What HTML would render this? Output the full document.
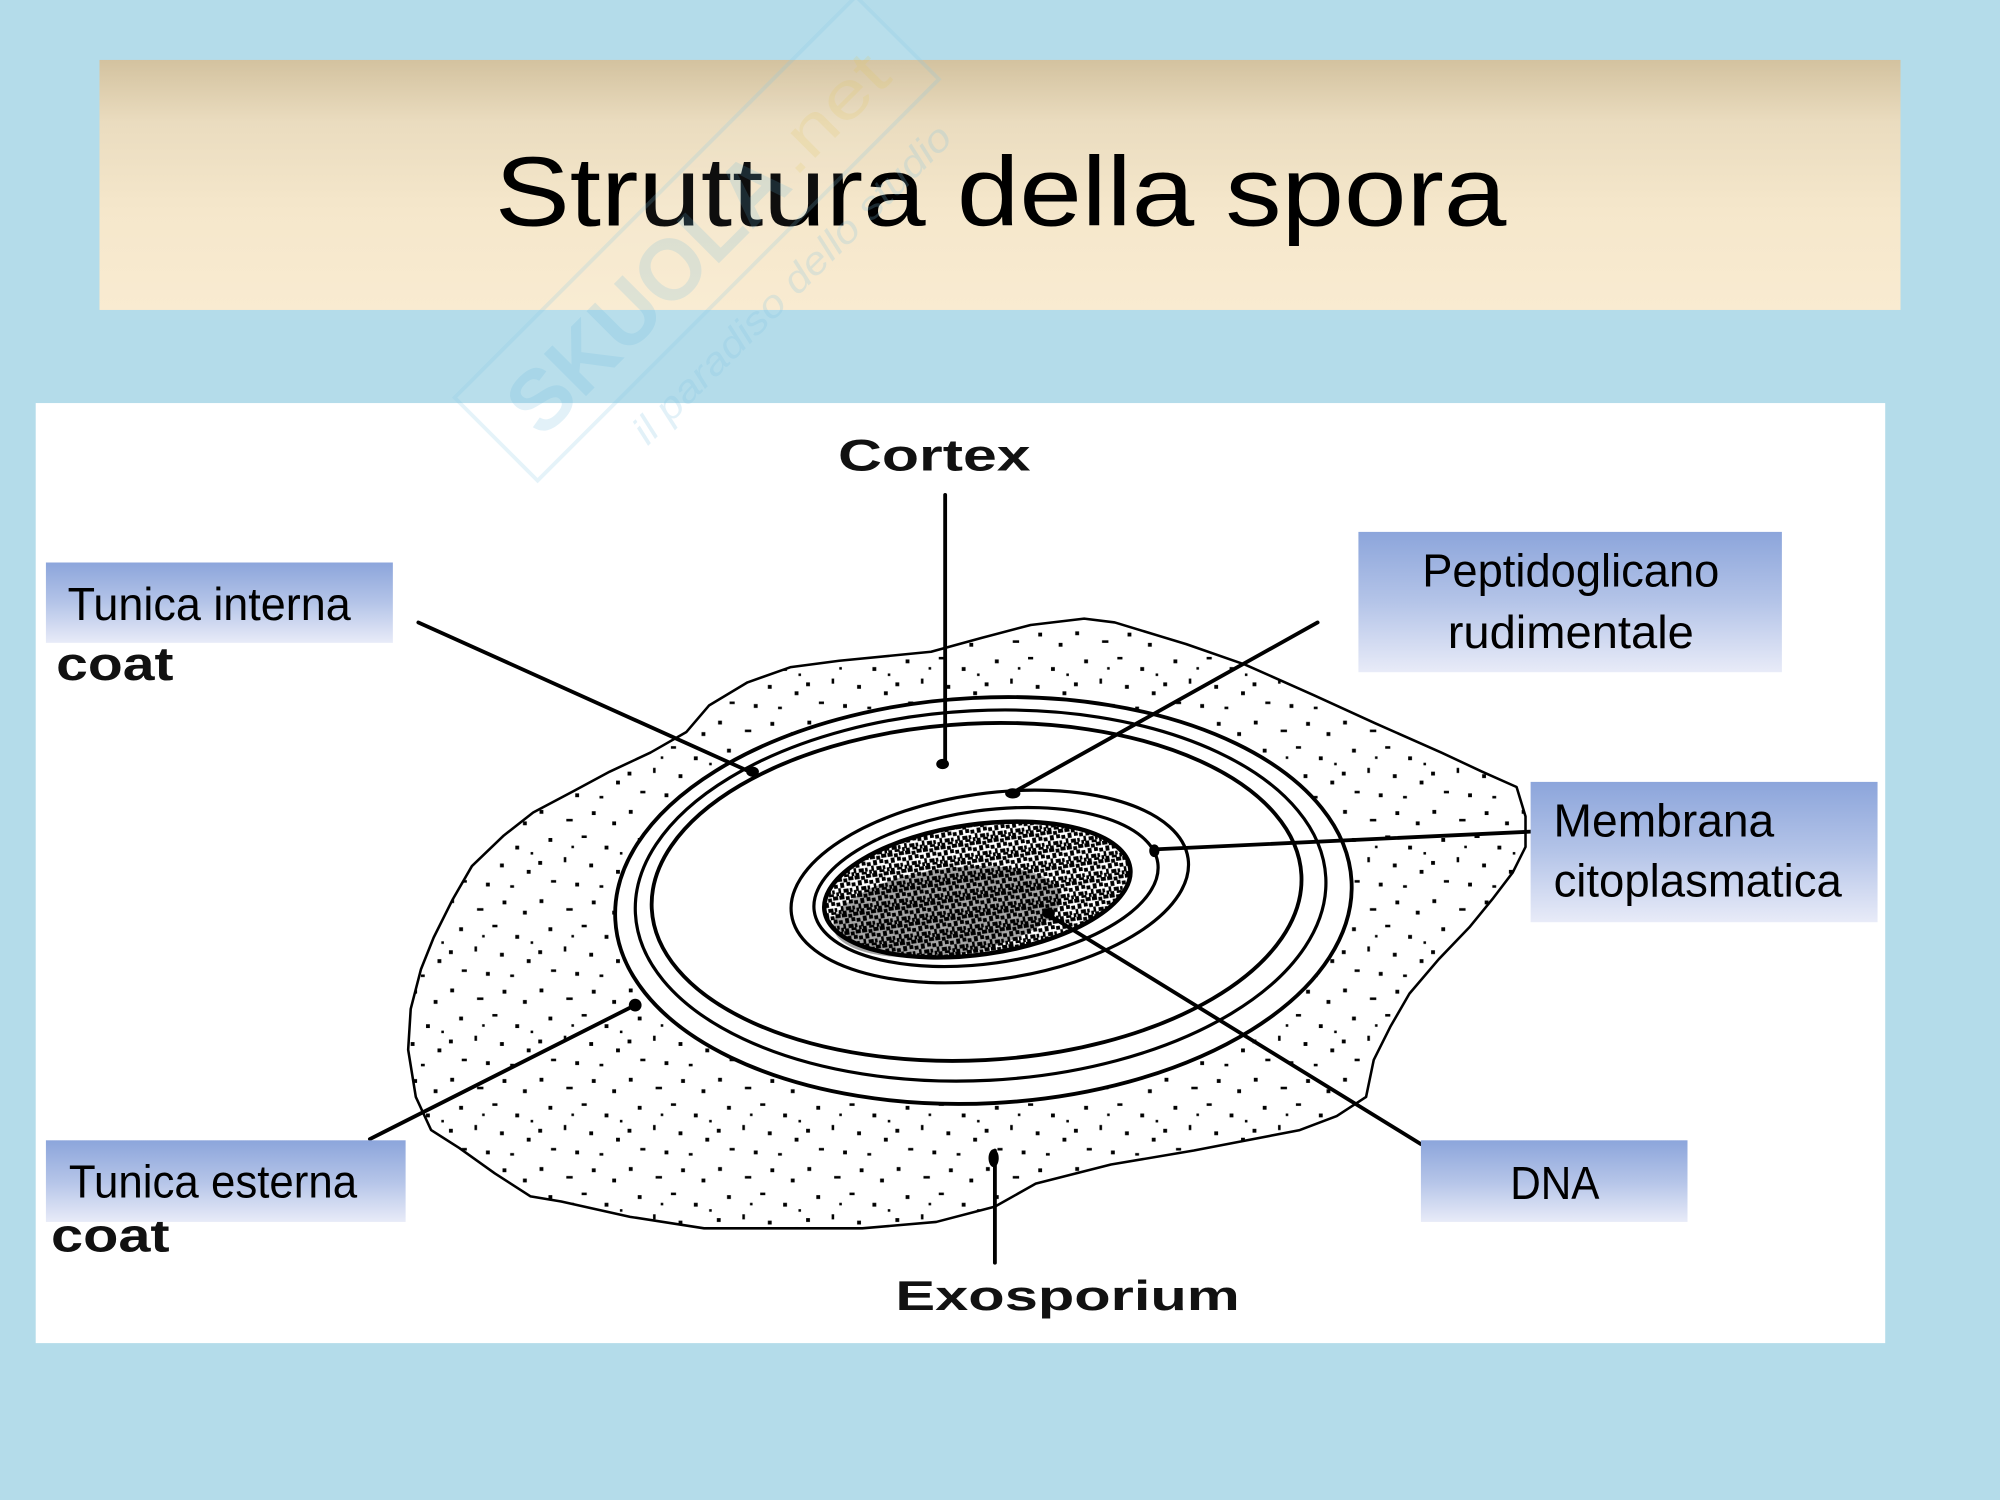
<!DOCTYPE html>
<html>
<head>
<meta charset="utf-8">
<style>
html,body{margin:0;padding:0;background:#b4dcea;}
svg{display:block;}
</style>
</head>
<body>
<svg width="2000" height="1500" viewBox="0 0 1568 1176" xmlns="http://www.w3.org/2000/svg">
<defs>
  <linearGradient id="tg" x1="0" y1="0" x2="0" y2="1">
    <stop offset="0" stop-color="#d3c29f"/>
    <stop offset="0.25" stop-color="#eadcbf"/>
    <stop offset="0.6" stop-color="#f5e7cb"/>
    <stop offset="1" stop-color="#f9ebd1"/>
  </linearGradient>
  <linearGradient id="bg" x1="0" y1="0" x2="0" y2="1">
    <stop offset="0" stop-color="#8ca5db"/>
    <stop offset="0.5" stop-color="#b4c4e8"/>
    <stop offset="1" stop-color="#e8ebf8"/>
  </linearGradient>
  <pattern id="sparse" width="70" height="70" patternUnits="userSpaceOnUse">
    <rect width="70" height="70" fill="#fff"/>
    <g fill="#000">
      <rect x="3" y="5" width="3" height="3"/><rect x="24" y="12" width="5" height="2"/>
      <rect x="44" y="6" width="3" height="3"/><rect x="60" y="14" width="3" height="3"/>
      <rect x="10" y="27" width="3" height="3"/><rect x="36" y="25" width="4" height="2"/>
      <rect x="54" y="33" width="3" height="3"/><rect x="2" y="45" width="3" height="3"/>
      <rect x="22" y="42" width="2" height="4"/><rect x="42" y="47" width="3" height="3"/>
      <rect x="63" y="52" width="3" height="3"/><rect x="12" y="60" width="4" height="2"/>
      <rect x="31" y="62" width="3" height="3"/><rect x="50" y="64" width="3" height="2"/>
      <rect x="28" y="33" width="2" height="2"/><rect x="66" y="38" width="2" height="2"/>
    </g>
  </pattern>
  <pattern id="dense" width="14" height="14" patternUnits="userSpaceOnUse">
    <rect width="14" height="14" fill="#fff"/>
    <g fill="#000">
      <rect x="0" y="0" width="4" height="3"/><rect x="5" y="1" width="3" height="3"/>
      <rect x="9" y="0" width="4" height="3"/><rect x="2" y="4" width="3" height="4"/>
      <rect x="7" y="4" width="3" height="3"/><rect x="11" y="5" width="3" height="3"/>
      <rect x="0" y="8" width="2" height="4"/><rect x="4" y="9" width="4" height="3"/>
      <rect x="9" y="9" width="2" height="3"/><rect x="12" y="11" width="2" height="3"/>
      <rect x="1" y="12" width="3" height="2"/><rect x="6" y="12" width="4" height="2"/>
    </g>
  </pattern>
</defs>

<!-- background -->
<rect x="0" y="0" width="1568" height="1176" fill="#b4dcea"/>

<!-- title box -->
<rect x="78" y="47" width="1412" height="196" fill="url(#tg)"/>
<text x="388" y="177" font-family="'Liberation Sans', sans-serif" font-size="77" fill="#000" textLength="793" lengthAdjust="spacingAndGlyphs">Struttura della spora</text>

<!-- white panel -->
<rect x="28" y="316" width="1450" height="737" fill="#fff"/>

<!-- exosporium blob -->
<path d="M850,485 L874,488 L930,505 L976,521 L1030,545 L1078,567 L1130,590 L1162,605 L1189,617 L1196,640 L1196,664 L1186,684 L1170,705 L1152,727 L1128,752 L1105,779 L1090,805 L1077,831 L1071,860 L1048,875 L1019,886 L936,902 L871,913 L812,928 L780,946 L734,958 L676,963 L552,963 L494,954 L440,942 L416,938 L388,920 L360,900 L338,886 L326,860 L320,823 L322,791 L330,760 L340,735 L355,705 L370,679 L395,655 L418,637 L450,620 L478,605 L510,590 L538,574 L556,553 L586,535 L620,523 L658,518 L730,511 L770,500 L808,490 Z" fill="url(#sparse)" stroke="#000" stroke-width="2" stroke-linejoin="round"/>

<!-- coat rings -->
<g transform="rotate(-3 771 706)">
  <ellipse cx="771" cy="706" rx="289" ry="159" fill="#fff" stroke="#000" stroke-width="3"/>
  <ellipse cx="769" cy="702" rx="271" ry="145" fill="none" stroke="#000" stroke-width="2.5"/>
  <ellipse cx="766" cy="699" rx="255" ry="132" fill="none" stroke="#000" stroke-width="3"/>
</g>

<!-- core -->
<g transform="rotate(-8 776 695)">
  <ellipse cx="776" cy="695" rx="157" ry="73" fill="#fff" stroke="#000" stroke-width="2.5"/>
  <ellipse cx="773" cy="695" rx="136" ry="60" fill="#fff" stroke="#000" stroke-width="2.5"/>
  <ellipse cx="766" cy="696" rx="121" ry="51" fill="url(#dense)" stroke="#000" stroke-width="3.5"/>
  <ellipse cx="740" cy="710" rx="90" ry="34" fill="#000" opacity="0.35"/>
</g>

<!-- leader lines -->
<g stroke="#000" stroke-width="3" stroke-linecap="round" fill="none">
  <line x1="741" y1="388" x2="741" y2="598"/>
  <line x1="328" y1="488" x2="590" y2="606"/>
  <line x1="1033" y1="488" x2="793" y2="622"/>
  <line x1="903" y1="666" x2="1200" y2="652"/>
  <line x1="820" y1="716" x2="1114" y2="897"/>
  <line x1="290" y1="893" x2="498" y2="788"/>
  <line x1="780" y1="902" x2="780" y2="990"/>
</g>
<g fill="#000">
  <ellipse cx="739" cy="599" rx="5" ry="4"/>
  <ellipse cx="590" cy="605" rx="5" ry="4"/>
  <ellipse cx="794" cy="622" rx="6" ry="4"/>
  <ellipse cx="905" cy="667" rx="4" ry="5"/>
  <ellipse cx="822" cy="716" rx="5" ry="4"/>
  <ellipse cx="498" cy="788" rx="5" ry="5"/>
  <ellipse cx="779" cy="908" rx="4" ry="7"/>
</g>

<!-- bold diagram labels -->
<g font-family="'Liberation Sans', Arial, sans-serif" font-weight="bold" fill="#111">
  <text x="657" y="369" font-size="35" textLength="151" lengthAdjust="spacingAndGlyphs">Cortex</text>
  <text x="702" y="1027" font-size="33" textLength="270" lengthAdjust="spacingAndGlyphs">Exosporium</text>
  <text x="44" y="533" font-size="37" textLength="92" lengthAdjust="spacingAndGlyphs">coat</text>
  <text x="40" y="981" font-size="37" textLength="93" lengthAdjust="spacingAndGlyphs">coat</text>
</g>

<!-- label boxes -->
<rect x="36" y="441" width="272" height="63" fill="url(#bg)"/>
<rect x="1065" y="417" width="332" height="110" fill="url(#bg)"/>
<rect x="1200" y="613" width="272" height="110" fill="url(#bg)"/>
<rect x="36" y="894" width="282" height="64" fill="url(#bg)"/>
<rect x="1114" y="894" width="209" height="64" fill="url(#bg)"/>

<g font-family="'Liberation Sans', sans-serif" font-size="36" fill="#000">
  <text x="53" y="486" textLength="222" lengthAdjust="spacingAndGlyphs">Tunica interna</text>
  <text x="1115" y="460" textLength="233" lengthAdjust="spacingAndGlyphs">Peptidoglicano</text>
  <text x="1135" y="508" textLength="193" lengthAdjust="spacingAndGlyphs">rudimentale</text>
  <text x="1218" y="656" textLength="173" lengthAdjust="spacingAndGlyphs">Membrana</text>
  <text x="1218" y="703" textLength="226" lengthAdjust="spacingAndGlyphs">citoplasmatica</text>
  <text x="54" y="939" textLength="226" lengthAdjust="spacingAndGlyphs">Tunica esterna</text>
  <text x="1184" y="940" textLength="70" lengthAdjust="spacingAndGlyphs">DNA</text>
</g>

<!-- watermark -->
<g transform="translate(425 345) rotate(-45)" opacity="0.22">
  <rect x="-25" y="-72" width="445" height="92" fill="#ffffff" fill-opacity="0.25" stroke="#8ecbe6" stroke-width="3"/>
  <text x="0" y="0" font-family="'Liberation Sans', sans-serif" font-weight="bold" font-size="68" fill="#7fc3e3" textLength="280" lengthAdjust="spacingAndGlyphs">SKUOLA</text>
  <text x="285" y="-5" font-family="'Liberation Sans', sans-serif" font-size="52" fill="#e8d27a" textLength="110" lengthAdjust="spacingAndGlyphs">.net</text>
  <text x="55" y="62" font-family="'Liberation Sans', sans-serif" font-style="italic" font-size="30" fill="#7fc3e3" textLength="340" lengthAdjust="spacingAndGlyphs">il paradiso dello studio</text>
</g>
</svg>
</body>
</html>
